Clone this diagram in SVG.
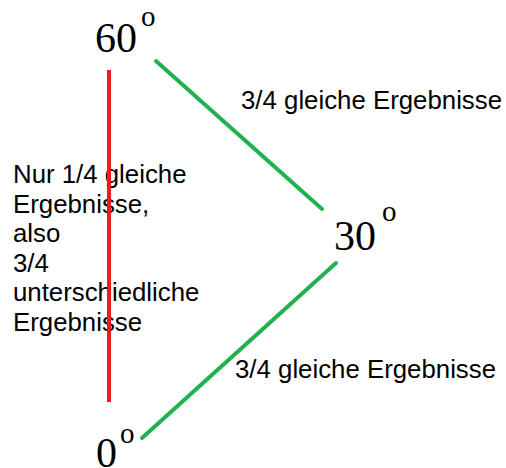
<svg xmlns="http://www.w3.org/2000/svg" width="506" height="468" viewBox="0 0 506 468">
<style>
.num{font-family:"Liberation Serif","Times New Roman",serif;font-size:42px;fill:#000}
.deg{font-family:"Liberation Serif","Times New Roman",serif;font-size:29px;fill:#000}
.lbl{font-family:"Liberation Sans",Arial,sans-serif;font-size:25.8px;fill:#000}
.g{stroke:#22b14c;stroke-width:4;stroke-linecap:round;fill:none}
.r{stroke:#ed1c24;stroke-width:4;fill:none}
</style>
<rect width="506" height="468" fill="#fff"/>
<g id="node-60"><text class="num" x="95" y="52">60</text><text class="deg" x="141" y="26">o</text></g>
<g id="node-30"><text class="num" x="334" y="250">30</text><text class="deg" x="382" y="221">o</text></g>
<g id="node-0"><text class="num" x="96" y="467">0</text><text class="deg" x="120" y="443">o</text></g>
<g id="label-left">
<text class="lbl" x="13" y="183">Nur 1/4 gleiche</text>
<text class="lbl" x="13" y="213">Ergebnisse,</text>
<text class="lbl" x="13" y="242">also</text>
<text class="lbl" x="13" y="272">3/4</text>
<text class="lbl" x="13" y="301">unterschiedliche</text>
<text class="lbl" x="13" y="331">Ergebnisse</text>
</g>
<g id="label-top"><text class="lbl" x="241" y="109">3/4 gleiche Ergebnisse</text></g>
<g id="label-bottom"><text class="lbl" x="235" y="378">3/4 gleiche Ergebnisse</text></g>
<g id="connectors">
<line class="r" x1="109" y1="70" x2="109" y2="402"/>
<line class="g" x1="156" y1="61" x2="322" y2="209"/>
<line class="g" x1="336" y1="263" x2="142" y2="438"/>
</g>
</svg>
